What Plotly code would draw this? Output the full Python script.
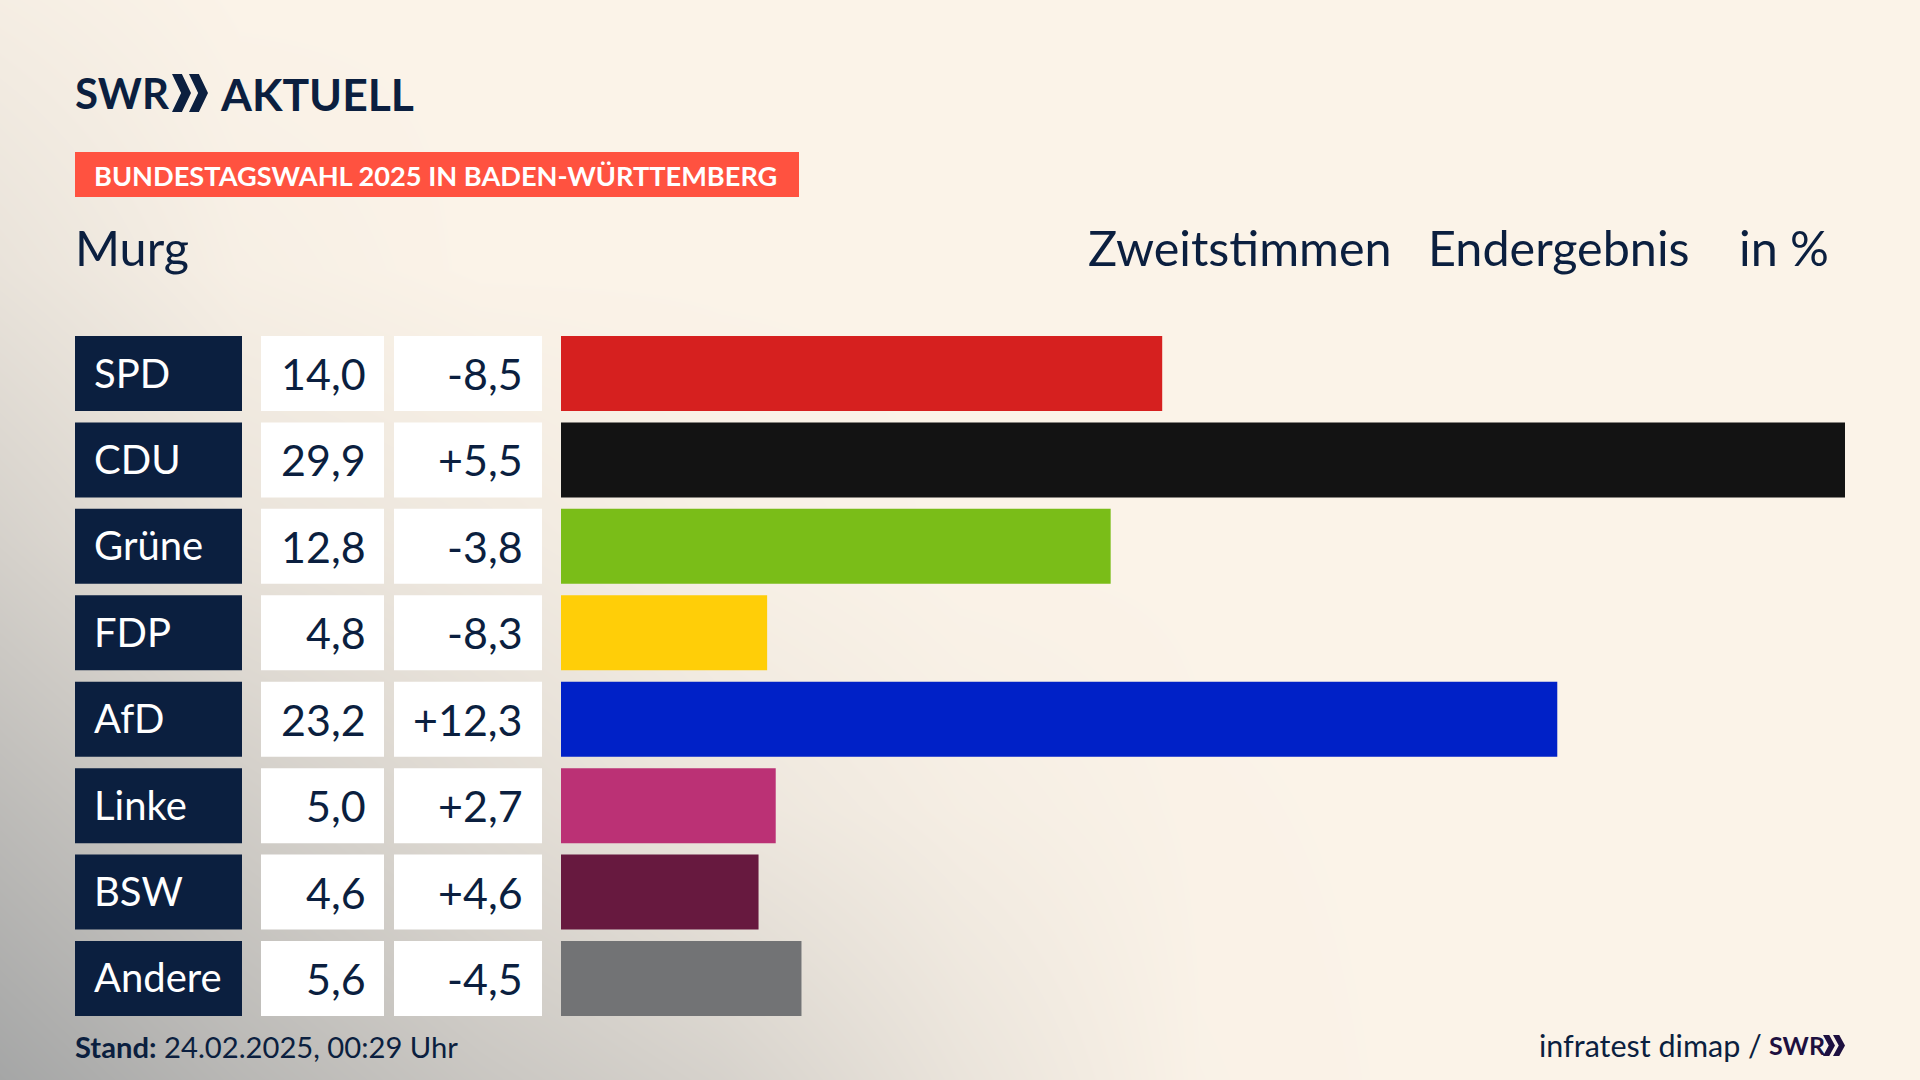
import plotly.graph_objects as go

parties = ["SPD", "CDU", "Grüne", "FDP", "AfD", "Linke", "BSW", "Andere"]
shares = [14.0, 29.9, 12.8, 4.8, 23.2, 5.0, 4.6, 5.6]
changes = [-8.5, 5.5, -3.8, -8.3, 12.3, 2.7, 4.6, -4.5]
colors = ["#d6201f", "#131313", "#7abd18", "#ffce08", "#0021c7", "#bb3175", "#67193f", "#727375"]

# backdrop tint (0 = paper, 1 = grey), columns every 240 px, rows every 270 px
bg_x = [0, 240, 480, 720, 960, 1200, 1440, 1680, 1920]
bg_y = [0, 270, 540, 810, 1080]
bg_z = [
    [0.07, 0.00, 0.00, 0.00, 0.00, 0.00, 0.00, 0.00, 0.00],
    [0.21, 0.05, 0.00, 0.00, 0.00, 0.00, 0.00, 0.00, 0.00],
    [0.44, 0.21, 0.13, 0.04, 0.00, 0.00, 0.00, 0.00, 0.00],
    [0.73, 0.50, 0.32, 0.17, 0.07, 0.01, 0.00, 0.00, 0.00],
    [1.00, 0.77, 0.58, 0.43, 0.20, 0.02, 0.00, 0.00, 0.00],
]

NAVY = "#0b1f3f"
PAPER = "#fbf3e8"
FONT = "Lato"
W, H = 1920, 1080


def px_x(a, b):
    return [a / W, b / W]


def fmt(v, signed=False):
    s = f"{v:+.1f}" if signed else f"{v:.1f}"
    return s.replace(".", ",")


fig = go.Figure()

# backdrop on a pixel-sized axis pair
fig.add_trace(go.Heatmap(x=bg_x, y=bg_y, z=bg_z, zmin=0, zmax=1, zsmooth="best", showscale=False,
                         colorscale=[[0, PAPER], [1, "#a5a6a6"]], hoverinfo="skip", xaxis="x", yaxis="y"))

n = len(parties)
for ax, col in (("x2", NAVY), ("x3", "#ffffff"), ("x4", "#ffffff")):
    fig.add_trace(go.Bar(y=parties, x=[1] * n, orientation="h", marker=dict(color=col, line_width=0),
                         xaxis=ax, yaxis="y2", showlegend=False, hoverinfo="skip"))
fig.add_trace(go.Bar(y=parties, x=shares, orientation="h", marker=dict(color=colors, line_width=0),
                     xaxis="x5", yaxis="y2", showlegend=False))

hidden = dict(visible=False, fixedrange=True)
layout_axes = dict(
    xaxis=dict(domain=[0, 1], range=[0, W], **hidden),
    yaxis=dict(domain=[0, 1], range=[H, 0], **hidden),
    xaxis2=dict(domain=px_x(75, 242), range=[0, 1], anchor="y2", **hidden),
    xaxis3=dict(domain=px_x(261, 384), range=[0, 1], anchor="y2", **hidden),
    xaxis4=dict(domain=px_x(394, 542), range=[0, 1], anchor="y2", **hidden),
    xaxis5=dict(domain=px_x(561, 1845), range=[0, 29.9], anchor="y2", **hidden),
    yaxis2=dict(domain=[1 - 1021.7 / H, 1 - 330.3 / H], type="category", categoryorder="array",
                categoryarray=parties, range=[n - 0.5, -0.5], anchor="x2", **hidden),
)


def note(x, y, text, size, color=NAVY, anchor="left", yref="y", family=FONT, yshift=0):
    return dict(x=x, y=y, xref="x", yref=yref, text=text, showarrow=False, xanchor=anchor, yanchor="middle",
                font=dict(family=family, size=size, color=color), yshift=yshift,
                borderpad=0, borderwidth=0)


anns = []
for p, s, c in zip(parties, shares, changes):
    anns.append(note(94, p, p, 40, "#ffffff", yref="y2", yshift=1))
    anns.append(note(365.5, p, fmt(s), 43, anchor="right", yref="y2"))
    anns.append(note(523, p, fmt(c, True), 43, anchor="right", yref="y2"))

anns += [
    note(75, 93, "<b>SWR</b>", 42),
    note(220, 93, "<b>AKTUELL</b>", 44.5),
    note(94, 175, "<b>BUNDESTAGSWAHL 2025 IN BADEN-WÜRTTEMBERG</b>", 27.2, "#ffffff"),
    note(75, 247, "Murg", 48.5),
    note(1088, 247, "Zweitstimmen", 48.5),
    note(1428, 247, "Endergebnis", 48.5),
    note(1739, 247, "in %", 48.5),
    note(75, 1046, "<b>Stand:</b> 24.02.2025, 00:29 Uhr", 29.2),
    note(1539, 1045, "infratest dimap /", 30.5),
    note(1769, 1045, "<b>SWR</b>", 25, "#1e1040"),
]


def chevron(x0, y0, w, h, color):
    t = w * 0.52
    path = (f"M{x0},{y0} L{x0 + t},{y0} L{x0 + w},{y0 + h / 2} L{x0 + t},{y0 + h} "
            f"L{x0},{y0 + h} L{x0 + w - t},{y0 + h / 2} Z")
    return dict(type="path", path=path, xref="x", yref="y", fillcolor=color, line_width=0)


shapes = [
    dict(type="rect", xref="x", yref="y", x0=75, x1=799, y0=152, y1=197, fillcolor="#ff5240", line_width=0),
    chevron(172, 74, 19, 38, NAVY),
    chevron(189, 74, 19, 38, NAVY),
    chevron(1823, 1035, 12, 21, "#1e1040"),
    chevron(1833, 1035, 12, 21, "#1e1040"),
]

fig.update_layout(
    width=W, height=H, margin=dict(l=0, r=0, t=0, b=0), paper_bgcolor=PAPER, plot_bgcolor="rgba(0,0,0,0)",
    showlegend=False, bargap=0.132, annotations=anns, shapes=shapes, **layout_axes,
)

fig.write_html("out.html", config=dict(displayModeBar=False),
               post_script="document.body.style.margin='0';")
